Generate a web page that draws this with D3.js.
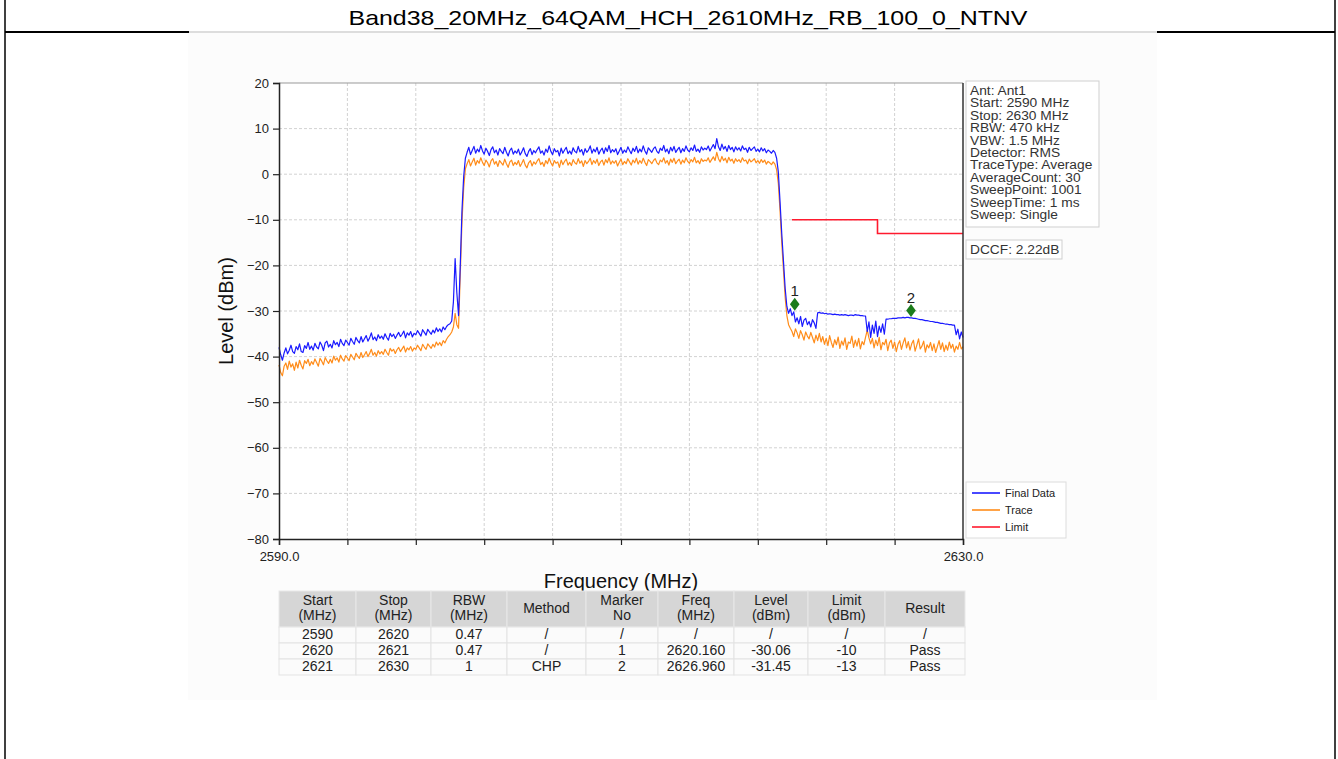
<!DOCTYPE html>
<html><head><meta charset="utf-8">
<script src="https://cdn.jsdelivr.net/npm/d3@7"></script>
<style>
html,body{margin:0;padding:0;background:#fff;}
svg{display:block;font-family:"Liberation Sans",Arial,sans-serif;}
</style></head><body>
<svg id="c" width="1338" height="759"></svg>
<script>
// ---------------- DATA ----------------
const title = "Band38_20MHz_64QAM_HCH_2610MHz_RB_100_0_NTNV";
const freqStart = 2590, freqStop = 2630, freqStep = 0.1;
// Final Data (dBm), one value per 0.1 MHz from 2590.0 to 2630.0
const finalData = [
-38.0,-39.6,-40.8,-39.2,-38.1,-39.4,-38.6,-37.5,-38.9,-39.3,
-37.8,-38.5,-37.2,-38.9,-39.1,-37.6,-38.2,-36.9,-38.4,-37.7,
-38.6,-37.1,-37.9,-38.3,-36.8,-37.5,-38.7,-37.0,-36.6,-37.9,
-37.3,-38.1,-36.5,-37.4,-36.9,-37.8,-36.2,-37.1,-37.6,-36.4,
-36.9,-37.5,-36.0,-36.7,-37.3,-35.8,-36.5,-37.0,-35.6,-36.8,
-36.1,-35.4,-36.6,-35.9,-34.8,-36.3,-35.7,-36.5,-35.2,-36.0,
-35.5,-36.2,-35.0,-35.8,-36.4,-34.9,-35.6,-35.1,-36.0,-35.3,
-34.7,-35.6,-35.1,-34.4,-35.9,-34.8,-35.3,-34.5,-35.7,-34.9,
-35.2,-34.3,-34.9,-35.5,-34.1,-34.7,-35.3,-34.0,-34.6,-35.1,
-34.2,-34.8,-33.7,-34.5,-33.9,-34.6,-33.5,-34.1,-33.4,-33.0,
-32.8,-32.2,-28.0,-18.5,-26.0,-31.0,-20.0,-8.0,-0.5,3.5,
4.8,5.9,4.3,5.2,6.1,4.6,5.5,4.9,6.3,5.1,
4.4,5.7,5.0,4.1,5.4,6.0,4.7,5.3,4.2,5.6,
5.0,4.5,5.9,4.8,4.0,5.2,5.7,4.4,5.1,4.6,
5.5,4.2,4.9,5.8,4.5,3.9,5.0,5.6,4.3,5.2,
4.7,5.4,6.0,4.6,5.1,4.2,5.5,4.8,6.2,5.0,
4.3,5.6,4.9,5.2,4.0,5.7,4.6,5.3,5.9,4.5,
5.1,4.4,5.8,5.0,4.7,6.1,4.9,5.4,4.2,5.6,
4.8,5.3,6.2,4.6,5.5,4.9,5.9,4.4,5.2,5.7,
4.5,5.8,5.0,6.3,4.7,5.4,4.9,5.6,4.3,5.1,
5.9,4.6,5.3,4.8,6.0,5.2,4.5,5.7,5.0,6.1,
4.7,5.5,4.9,6.2,5.1,4.4,5.8,5.3,4.8,5.6,
6.0,5.0,4.6,5.7,5.2,6.3,4.9,5.5,4.5,5.9,
5.1,6.1,4.8,5.4,5.9,4.7,5.6,5.0,6.2,5.3,
4.9,5.8,5.2,6.4,5.0,5.5,4.8,6.0,5.3,5.7,
5.4,6.2,5.1,5.8,6.5,5.6,7.8,6.0,5.2,6.6,
5.5,6.1,5.0,6.3,5.4,5.9,4.9,6.0,5.3,5.8,
5.1,6.2,5.4,5.7,4.8,5.9,5.2,5.6,6.0,5.0,
5.5,4.9,5.8,5.1,5.6,4.7,5.3,5.0,4.6,5.2,
4.8,3.5,0.5,-6.0,-13.0,-19.0,-25.0,-29.0,-30.5,-29.5,
-31.0,-30.2,-32.4,-31.5,-32.8,-31.2,-33.4,-32.0,-31.6,-33.0,
-32.3,-33.5,-31.9,-32.6,-33.8,-30.4,-30.3,-30.5,-30.4,-30.6,
-30.5,-30.7,-30.6,-30.7,-30.8,-30.7,-30.8,-30.8,-30.9,-30.8,
-30.9,-30.8,-30.9,-31.0,-30.9,-30.9,-31.0,-30.8,-30.9,-30.9,
-31.0,-31.0,-31.1,-31.1,-34.5,-32.4,-35.8,-33.1,-34.9,-32.2,
-35.6,-33.3,-34.7,-32.8,-35.1,-31.8,-31.8,-31.7,-31.7,-31.6,
-31.6,-31.6,-31.5,-31.5,-31.5,-31.4,-31.5,-31.4,-31.4,-31.5,
-31.5,-31.6,-31.6,-31.7,-31.8,-31.9,-31.9,-32.0,-32.1,-32.1,
-32.2,-32.3,-32.3,-32.4,-32.5,-32.5,-32.6,-32.7,-32.7,-32.8,
-32.9,-32.9,-33.0,-33.0,-33.1,-33.1,-35.2,-34.0,-36.1,-34.6,
-35.8];
// Trace (dBm), same frequency grid
const traceData = [
-41.8,-43.5,-44.2,-42.1,-41.4,-42.8,-41.0,-42.3,-41.6,-43.0,
-41.2,-42.5,-40.8,-41.9,-42.7,-40.9,-41.5,-40.6,-42.0,-41.1,
-41.7,-40.5,-41.3,-42.1,-40.4,-41.0,-41.8,-40.2,-40.9,-41.5,
-40.6,-41.4,-39.9,-40.8,-40.3,-41.2,-39.7,-40.5,-41.0,-39.8,
-40.3,-40.9,-39.5,-40.1,-40.7,-39.3,-39.9,-40.4,-39.1,-40.2,
-39.6,-38.9,-40.0,-39.3,-38.4,-39.7,-39.1,-39.9,-38.7,-39.4,
-38.9,-39.5,-38.4,-39.1,-39.7,-38.2,-38.8,-38.4,-39.3,-38.5,
-38.0,-38.9,-38.3,-37.7,-39.0,-38.1,-38.5,-37.8,-38.8,-38.1,
-38.4,-37.5,-38.1,-38.7,-37.3,-37.9,-38.4,-37.2,-37.7,-38.2,
-37.3,-37.9,-36.8,-37.5,-36.9,-37.6,-36.5,-37.0,-36.2,-35.6,
-35.2,-34.6,-33.5,-30.5,-33.0,-33.8,-22.0,-10.5,-3.0,1.2,
2.3,3.2,1.8,2.7,3.5,2.0,3.0,2.4,3.6,2.6,
1.9,3.1,2.5,1.6,2.9,3.4,2.2,2.8,1.7,3.0,
2.5,2.0,3.3,2.3,1.5,2.7,3.1,1.9,2.6,2.1,
3.0,1.7,2.4,3.2,2.0,1.4,2.5,3.0,1.8,2.7,
2.2,2.9,3.4,2.1,2.6,1.7,3.0,2.3,3.5,2.5,
1.8,3.0,2.4,2.7,1.5,3.1,2.1,2.8,3.3,2.0,
2.6,1.9,3.2,2.5,2.2,3.4,2.4,2.9,1.7,3.0,
2.3,2.8,3.5,2.1,3.0,2.4,3.3,1.9,2.7,3.1,
2.0,3.2,2.5,3.6,2.2,2.9,2.4,3.0,1.8,2.6,
3.3,2.1,2.8,2.3,3.4,2.7,2.0,3.1,2.5,3.5,
2.2,3.0,2.4,3.5,2.6,1.9,3.2,2.8,2.3,3.0,
3.4,2.5,2.1,3.1,2.7,3.6,2.4,3.0,2.0,3.3,
2.6,3.5,2.3,2.9,3.3,2.2,3.1,2.5,3.6,2.8,
2.4,3.2,2.7,3.7,2.5,3.0,2.3,3.4,2.8,3.1,
2.9,3.6,2.6,3.2,3.8,3.0,4.8,3.4,2.7,3.9,
3.0,3.5,2.5,3.7,2.9,3.3,2.4,3.4,2.8,3.2,
2.6,3.6,2.9,3.1,2.3,3.3,2.7,3.0,3.4,2.5,
3.0,2.4,3.2,2.6,3.1,2.2,2.8,2.5,2.1,2.7,
2.2,1.0,-2.0,-8.0,-15.0,-21.0,-27.0,-31.0,-33.0,-33.8,
-34.5,-35.6,-33.9,-34.8,-36.0,-34.3,-35.2,-36.4,-34.6,-35.5,
-36.1,-34.7,-35.8,-37.0,-35.3,-36.5,-34.9,-36.8,-35.6,-37.3,
-36.0,-37.6,-35.4,-36.9,-38.0,-36.3,-37.4,-35.7,-38.2,-36.6,
-37.5,-35.9,-38.4,-36.8,-37.1,-35.5,-38.0,-36.4,-37.7,-36.0,
-38.3,-36.7,-37.4,-35.8,-34.2,-35.9,-37.2,-36.0,-38.1,-36.4,
-37.6,-35.8,-38.5,-36.9,-37.4,-36.2,-38.7,-37.0,-36.4,-38.2,
-36.8,-38.9,-37.3,-36.5,-38.4,-37.0,-35.9,-38.1,-36.7,-38.6,
-37.2,-36.4,-38.8,-37.5,-36.1,-38.3,-37.7,-36.6,-39.0,-37.4,
-38.1,-36.9,-38.7,-37.2,-39.1,-37.8,-36.5,-38.4,-37.0,-38.9,
-37.5,-38.6,-36.8,-38.2,-37.3,-39.0,-37.7,-38.4,-36.9,-38.3,
-37.8];
const limitFreq  = [2620, 2625, 2625, 2630];
const limitLevel = [-10, -10, -13, -13];
const markerNo    = ["1", "2"];
const markerFreq  = [2620.160, 2626.960];
const markerLevel = [-30.06, -31.45];
const yTicks = [20, 10, 0, -10, -20, -30, -40, -50, -60, -70, -80];
const xTicks = [2590, 2594, 2598, 2602, 2606, 2610, 2614, 2618, 2622, 2626, 2630];
const xTickLabels = {2590: "2590.0", 2630: "2630.0"};
const infoLines = ["Ant: Ant1","Start: 2590 MHz","Stop: 2630 MHz","RBW: 470 kHz","VBW: 1.5 MHz",
  "Detector: RMS","TraceType: Average","AverageCount: 30","SweepPoint: 1001","SweepTime: 1 ms","Sweep: Single"];
const dccfText = "DCCF: 2.22dB";
const legendNames = ["Final Data", "Trace", "Limit"];
const tableHeader = [["Start","(MHz)"],["Stop","(MHz)"],["RBW","(MHz)"],["Method"],["Marker","No"],
  ["Freq","(MHz)"],["Level","(dBm)"],["Limit","(dBm)"],["Result"]];
const tableRows = [
  ["2590","2620","0.47","/","/","/","/","/","/"],
  ["2620","2621","0.47","/","1","2620.160","-30.06","-10","Pass"],
  ["2621","2630","1","CHP","2","2626.960","-31.45","-13","Pass"]];

// ---------------- DRAW ----------------
const svg = d3.select("#c");
const colors = {final:"#1a1aff", trace:"#ff8c1a", limit:"#ff1a2e", marker:"#1c7c1c"};
function fit(sel, sx){ sel.each(function(){ const w=this.getComputedTextLength(); d3.select(this).attr("textLength", w*sx).attr("lengthAdjust","spacingAndGlyphs"); }); }

// page frame
svg.append("rect").attr("x",188).attr("y",33).attr("width",969).attr("height",667).attr("fill","#fcfcfc");
svg.append("line").attr("x1",5).attr("x2",5).attr("y1",0).attr("y2",759).attr("stroke","#000").attr("stroke-width",1.5);
svg.append("line").attr("x1",1335).attr("x2",1335).attr("y1",0).attr("y2",759).attr("stroke","#000").attr("stroke-width",1.5);
svg.append("line").attr("x1",5).attr("x2",189).attr("y1",32).attr("y2",32).attr("stroke","#000").attr("stroke-width",2);
svg.append("line").attr("x1",1157).attr("x2",1335).attr("y1",32).attr("y2",32).attr("stroke","#000").attr("stroke-width",2);
svg.append("line").attr("x1",189).attr("x2",1157).attr("y1",32).attr("y2",32).attr("stroke","#bbb").attr("stroke-width",1);
const tt = svg.append("text").attr("x",688).attr("y",25).attr("text-anchor","middle").attr("font-size",21).attr("fill","#000").text(title);
tt.attr("textLength",679).attr("lengthAdjust","spacingAndGlyphs");

// scales
const x = d3.scaleLinear().domain([freqStart, freqStop]).range([279, 963]);
const y = d3.scaleLinear().domain([-80, 20]).range([539, 83]);

svg.append("rect").attr("x",279).attr("y",83).attr("width",684).attr("height",456).attr("fill","#fff");

// grid
const g = svg.append("g");
g.selectAll(".gx").data(xTicks.slice(1,-1)).join("line").attr("x1",d=>x(d)).attr("x2",d=>x(d))
  .attr("y1",83).attr("y2",539).attr("stroke","#d2d2d2").attr("stroke-dasharray","3,2");
g.selectAll(".gy").data(yTicks.slice(1,-1)).join("line").attr("y1",d=>y(d)).attr("y2",d=>y(d))
  .attr("x1",279).attr("x2",963).attr("stroke","#d2d2d2").attr("stroke-dasharray","3,2");

// traces
const freqs = finalData.map((_,i)=>freqStart + i*freqStep);
const line = d3.line().x(d=>x(d[0])).y(d=>y(d[1]));
svg.append("path").datum(freqs.map((f,i)=>[f,traceData[i]])).attr("d",line).attr("fill","none")
  .attr("stroke",colors.trace).attr("stroke-width",1.2).attr("stroke-linejoin","round");
svg.append("path").datum(freqs.map((f,i)=>[f,finalData[i]])).attr("d",line).attr("fill","none")
  .attr("stroke",colors.final).attr("stroke-width",1.2).attr("stroke-linejoin","round");
svg.append("path").datum(limitFreq.map((f,i)=>[f,limitLevel[i]])).attr("d",line).attr("fill","none")
  .attr("stroke",colors.limit).attr("stroke-width",1.6);

// markers
markerFreq.forEach((f,i)=>{
  const cx = x(f), cy = y(markerLevel[i]) - 7;
  svg.append("path").attr("d",`M${cx},${cy-6.5}L${cx+4.8},${cy}L${cx},${cy+6.5}L${cx-4.8},${cy}Z`).attr("fill",colors.marker);
  svg.append("text").attr("x",cx).attr("y",cy-8).attr("text-anchor","middle").attr("font-size",15).attr("fill","#222").text(markerNo[i]);
});

// axes spines
svg.append("line").attr("x1",279).attr("x2",963).attr("y1",83).attr("y2",83).attr("stroke","#999").attr("stroke-width",1);
svg.append("line").attr("x1",963).attr("x2",963).attr("y1",83).attr("y2",539).attr("stroke","#333").attr("stroke-width",1.5);
const yAxis = svg.append("g").attr("transform","translate(279,0)").call(d3.axisLeft(y).tickValues(yTicks).tickSize(6).tickFormat(d=>d<0?"\u2212"+Math.abs(d):d));
const xAxis = svg.append("g").attr("transform","translate(0,539)").call(d3.axisBottom(x).tickValues(xTicks).tickSize(6).tickFormat(d=>xTickLabels[d]||""));
[yAxis,xAxis].forEach(a=>{ a.select(".domain").attr("stroke","#222").attr("stroke-width",1.5);
  a.selectAll(".tick line").attr("stroke","#222").attr("stroke-width",1.2);
  a.selectAll("text").attr("font-size",13).attr("fill","#222").attr("font-family","Liberation Sans, Arial, sans-serif"); });
yAxis.selectAll("text").attr("x",-10);
xAxis.selectAll("text").attr("y",13);

svg.append("text").attr("x",621).attr("y",588).attr("text-anchor","middle").attr("font-size",20).attr("fill","#111").text("Frequency (MHz)");
svg.append("text").attr("transform","translate(233,311) rotate(-90)").attr("text-anchor","middle").attr("font-size",20).attr("fill","#111").text("Level (dBm)");

// info box
svg.append("rect").attr("x",966).attr("y",81).attr("width",133).attr("height",146).attr("fill","#fff").attr("stroke","#cfcfcf");
const info = svg.append("g");
info.selectAll("text").data(infoLines).join("text").attr("x",970).attr("y",(d,i)=>95+i*12.4)
  .attr("font-size",12.5).attr("fill","#333").text(d=>d).call(fit,1.1);
svg.append("rect").attr("x",966).attr("y",240).attr("width",96).attr("height",19).attr("fill","#fff").attr("stroke","#cfcfcf");
svg.append("text").attr("x",970).attr("y",254).attr("font-size",12.5).attr("fill","#333").text(dccfText).call(fit,1.1);

// legend
svg.append("rect").attr("x",966).attr("y",482).attr("width",100).attr("height",56).attr("fill","#fff").attr("stroke","#dcdcdc");
const legColors = [colors.final, colors.trace, colors.limit];
legendNames.forEach((n,i)=>{
  const ly = 493 + i*17;
  svg.append("line").attr("x1",972).attr("x2",1000).attr("y1",ly).attr("y2",ly).attr("stroke",legColors[i]).attr("stroke-width",1.6);
  svg.append("text").attr("x",1005).attr("y",ly+4).attr("font-size",11).attr("fill","#222").text(n);
});

// table
const colB = [279, 356, 431, 507, 586, 658, 734, 808, 885, 965];
const tb = svg.append("g");
tableHeader.forEach((h,c)=>{
  tb.append("rect").attr("x",colB[c]).attr("y",591).attr("width",colB[c+1]-colB[c]).attr("height",36)
    .attr("fill","#d6d6d6").attr("stroke","#e8e8e8");
  const cx = (colB[c]+colB[c+1])/2;
  h.forEach((t,k)=>{
    const yy = h.length===1 ? 613 : 605 + k*15;
    tb.append("text").attr("x",cx).attr("y",yy).attr("text-anchor","middle").attr("font-size",14).attr("fill","#222").text(t);
  });
});
tableRows.forEach((r,ri)=>{
  r.forEach((t,c)=>{
    tb.append("rect").attr("x",colB[c]).attr("y",627+ri*16).attr("width",colB[c+1]-colB[c]).attr("height",16)
      .attr("fill","#fbfbfb").attr("stroke","#e3e3e3");
    tb.append("text").attr("x",(colB[c]+colB[c+1])/2).attr("y",639+ri*16).attr("text-anchor","middle")
      .attr("font-size",14).attr("fill","#222").text(t);
  });
});
</script>
</body></html>
